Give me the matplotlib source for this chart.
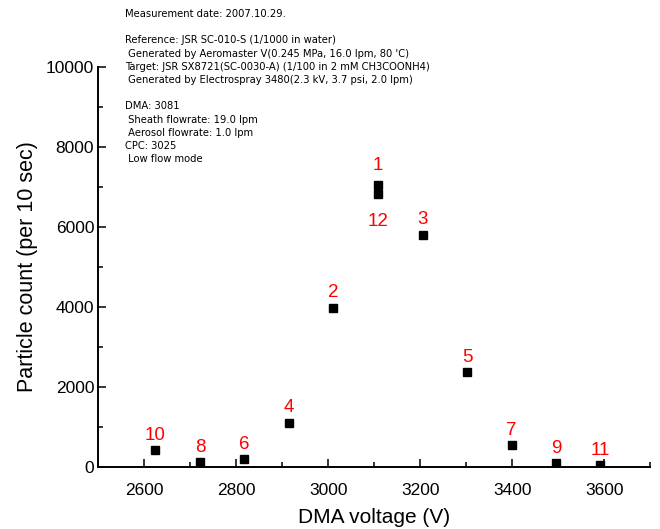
import numpy as np
import matplotlib
matplotlib.use('Agg')
import matplotlib.pyplot as plt
from matplotlib.ticker import MultipleLocator

run_no = ['10', '8', '6', '4', '2', '1', '12', '3', '5', '7', '9', '11']
voltage = [2624, 2721, 2817, 2915, 3011, 3108, 3108, 3206, 3302, 3399, 3495, 3591]
count = [430, 140, 200, 1120, 3990, 7040, 6820, 5810, 2380, 550, 120, 60]

notes = ['Measurement date: 2007.10.29.',
         '',
         'Reference: JSR SC-010-S (1/1000 in water)',
         ' Generated by Aeromaster V(0.245 MPa, 16.0 lpm, 80 \'C)',
         'Target: JSR SX8721(SC-0030-A) (1/100 in 2 mM CH3COONH4)',
         ' Generated by Electrospray 3480(2.3 kV, 3.7 psi, 2.0 lpm)',
         '',
         'DMA: 3081',
         ' Sheath flowrate: 19.0 lpm',
         ' Aerosol flowrate: 1.0 lpm',
         'CPC: 3025',
         ' Low flow mode']

plt.rcParams['font.family'] = ['Liberation Sans', 'DejaVu Sans']

fig = plt.figure(figsize=(6.6, 5.29), dpi=100)
ax = fig.add_axes([0.149, 0.1163, 0.836, 0.7578])

ax.plot(voltage, count, 's', color='black', ms=6, mec='black')

for lab, v, c in zip(run_no, voltage, count):
    dy = 10.5
    if lab == '1':
        dy = 14.5
    elif lab == '12':
        dy = -19.5
    ax.annotate(lab, (v, c), xytext=(0, dy), textcoords='offset points',
                ha='center', va='center', color='red', fontsize=13.5)

ax.set_xlim(2500, 3700)
ax.set_ylim(0, 10000)
ax.xaxis.set_major_locator(MultipleLocator(200))
ax.xaxis.set_minor_locator(MultipleLocator(100))
ax.yaxis.set_major_locator(MultipleLocator(2000))
ax.yaxis.set_minor_locator(MultipleLocator(1000))
ax.tick_params(which='both', direction='in', width=1.1, labelsize=12.5)
ax.tick_params(which='major', length=5.8)
ax.tick_params(which='minor', length=3.6)
ax.tick_params(axis='x', which='both', pad=11.5)
ax.tick_params(axis='y', which='both', pad=3)
for s in ['top', 'right']:
    ax.spines[s].set_visible(False)
for s in ['left', 'bottom']:
    ax.spines[s].set_linewidth(1.4)

ax.set_xlabel('DMA voltage (V)', fontsize=15, labelpad=7)
ax.set_ylabel('Particle count (per 10 sec)', fontsize=15.5, labelpad=6)

y0 = 1 - 14 / 529.0
for i, line in enumerate(notes):
    fig.text(125 / 660.0, y0 - i * 13.2 / 529.0, line, fontsize=7.2,
             va='center', ha='left', family='DejaVu Sans')

fig.savefig('out.png', dpi=100)
